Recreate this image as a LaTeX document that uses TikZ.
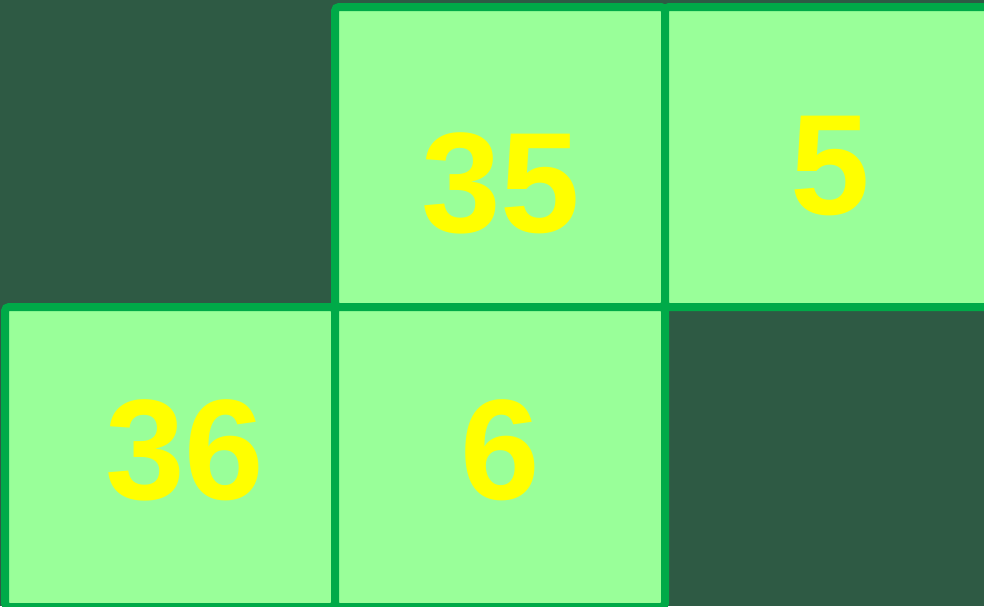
\documentclass[tikz,border=0pt]{standalone}
\usepackage{fontspec}
\setmainfont{Liberation Sans}
\definecolor{boardbg}{HTML}{2E5A44}
\definecolor{cellfill}{HTML}{99FF99}
\definecolor{cellline}{HTML}{00AA48}
\definecolor{numyellow}{HTML}{FFFF00}
\begin{document}
\begin{tikzpicture}[
        x=1pt, y=-1pt,
        cellbox/.style={draw=cellline, fill=cellfill, line width=8pt, rounded corners=4pt, rectangle, minimum width=330pt, minimum height=300pt, inner sep=0pt},
        numtext/.style={text=numyellow, font=\fontsize{143}{143}\selectfont\bfseries, anchor=base, inner sep=0pt}
    ]
    % --- Background ---
    \fill[boardbg] (0,0) rectangle (984,606);
    \useasboundingbox (0,0) rectangle (984,606);

    % --- ROW 1 ---
    \node[cellbox] (cellA) at (500,157) {};
    \node[cellbox] (cellB) at (830,157) {};

    % --- ROW 2 ---
    \node[cellbox] (cellC) at (170,457) {};
    \node[cellbox] (cellD) at (500,457) {};

    % --- Numbers ---
    \node[numtext] (numA) at (501,232) {35};
    \node[numtext] (numB) at (830,214) {5};
    \node[numtext] (numC) at (185,499) {36};
    \node[numtext] (numD) at (500,499) {6};

\end{tikzpicture}
\end{document}
